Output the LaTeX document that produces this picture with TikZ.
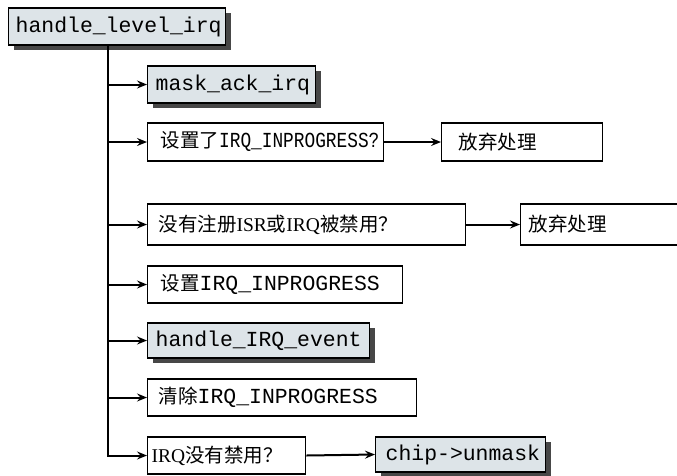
\documentclass[tikz,border=0pt]{standalone}
\usepackage{fontspec}
\setmainfont{Liberation Serif}
\setmonofont[Scale=1.1]{Liberation Mono}
\newfontfamily\cjk{Noto Sans CJK SC}
\newfontfamily\ttnarrow[Scale=1.1,FakeStretch=0.83]{Liberation Mono}
\newcommand{\zh}[1]{{\cjk #1}}
\hyphenpenalty=10000 \exhyphenpenalty=10000
\usepackage{xcolor}
\definecolor{boxfill}{HTML}{DDE4E8}
\definecolor{shade}{HTML}{474747}
\usepackage{tikz}
\usetikzlibrary{arrows.meta,shadows}
\tikzset{
  >={Stealth[length=10pt,width=8pt,inset=3.5pt]},
  box/.style={draw=black,line width=1.3pt,fill=white,anchor=west,inner ysep=0pt,minimum height=37pt,align=left},
  sbox/.style={box,fill=boxfill,drop shadow={shadow xshift=5pt,shadow yshift=-5pt,fill=shade,opacity=1}},
  arr/.style={->,draw=black,line width=2pt},
}
\begin{document}
\begin{tikzpicture}[x=1pt,y=-1pt,every node/.style={font=\fontsize{19.5}{23}\selectfont}]
\useasboundingbox (0,0) rectangle (677,475);
\node[sbox,inner xsep=7pt,text width=203pt] (top) at (8,26.5) {\ttfamily handle\_level\_irq};
\node[sbox,inner xsep=8pt,text width=152pt] (mask) at (147,84.5) {\ttfamily mask\_ack\_irq};
\node[box,inner xsep=13pt,text width=210pt,minimum height=38pt] (q1) at (147,142) {\zh{设置了}{\ttnarrow IRQ\_INPROGRESS?}};
\node[box,inner xsep=17pt,text width=127pt,minimum height=38pt] (give1) at (441,142) {\zh{放弃处理}};
\node[box,inner xsep=11pt,text width=296pt,minimum height=41pt] (q2) at (147,224.5) {\zh{没有注册}ISR\zh{或}IRQ\zh{被禁用？}};
\node[box,inner xsep=8pt,text width=164pt,minimum height=41pt] (give2) at (520,224.5) {\zh{放弃处理}};
\node[box,inner xsep=13pt,text width=229pt] (set) at (147,284.5) {\zh{设置}\texttt{IRQ\_INPROGRESS}};
\node[sbox,inner xsep=8pt,text width=206pt,minimum height=35pt] (hie) at (147,340.5) {\ttfamily handle\_IRQ\_event};
\node[box,inner xsep=11pt,text width=247pt] (clr) at (147,397.5) {\zh{清除}\texttt{IRQ\_INPROGRESS}};
\node[box,inner xsep=4pt,text width=150pt] (q3) at (147,455.5) {IRQ\zh{没有禁用？}};
\node[sbox,inner xsep=10pt,text width=150pt,minimum height=35pt] (unmask) at (375,454.5) {\ttfamily chip->unmask};
\coordinate (trunk) at (108,45);
% branches off the trunk
\foreach \n in {mask,q1,q2,set,hie,clr}
  \draw[arr] (trunk |- \n.west) -- (\n.west);
\draw[arr] (trunk) |- (q3.west);
\draw[arr] (q1.east) -- (give1.west);
\draw[arr] (q2.east) -- (give2.west);
\draw[arr] (q3.east) -- (unmask.west);
\end{tikzpicture}
\end{document}
